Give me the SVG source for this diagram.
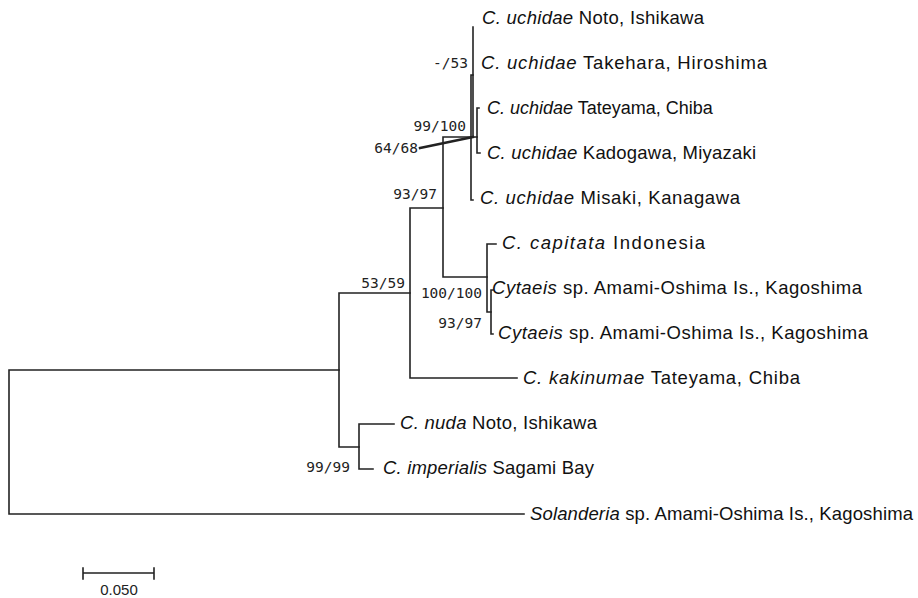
<svg xmlns="http://www.w3.org/2000/svg" width="918" height="598" viewBox="0 0 918 598">
<style>
  .br { fill: none; stroke: #222; stroke-width: 1.6; stroke-linecap: square; }
  .tx { font-family: "Liberation Sans", Arial, sans-serif; font-size: 18.5px; fill: #111; }
  .sp { font-style: italic; }
  .bs { font-family: "DejaVu Sans Mono", "Liberation Mono", monospace; font-size: 14.5px; fill: #222; }
  .sc { font-family: "Liberation Sans", Arial, sans-serif; font-size: 15px; fill: #222; }
</style>
<rect width="918" height="598" fill="#fff"/>

<!-- branches -->
<g id="branches" class="br">
  <!-- root -->
  <path d="M339 370 H9 V514 H524"/>
  <!-- ingroup split -->
  <path d="M410 293 H339 V447 H359"/>
  <!-- nuda / imperialis -->
  <path d="M394 424 H359 V469 H373"/>
  <!-- Cladonema s.l. clade -->
  <path d="M443 208 H410 V378 H517"/>
  <!-- uchidae vs capitata+Cytaeis -->
  <path d="M477 137 H443 V277 H487"/>
  <!-- capitata + Cytaeis -->
  <path d="M496 244 H487 V312 H491"/>
  <path d="M493 290 H491 V334 H493"/>
  <!-- uchidae clade -->
  <path d="M473 27 V137"/>
  <path d="M473 75 H471 V200 H473"/>
  <path d="M479 108 H477 V153 H480"/>
  <!-- leader line for 64/68 -->
  <path d="M420 148 L473 137" style="stroke-width:2.4"/>
</g>

<!-- terminal labels -->
<g id="taxa" class="tx" lengthAdjust="spacing">
  <g id="t1"><text x="482" y="24" textLength="222"><tspan class="sp">C. uchidae</tspan> Noto, Ishikawa</text></g>
  <g id="t2"><text x="481" y="69" textLength="286"><tspan class="sp">C. uchidae</tspan> Takehara, Hiroshima</text></g>
  <g id="t3"><text x="487" y="114" style="font-size:18px"><tspan class="sp">C. uchidae</tspan> Tateyama, Chiba</text></g>
  <g id="t4"><text x="487" y="159" textLength="269"><tspan class="sp">C. uchidae</tspan> Kadogawa, Miyazaki</text></g>
  <g id="t5"><text x="480" y="204" textLength="260"><tspan class="sp">C. uchidae</tspan> Misaki, Kanagawa</text></g>
  <g id="t6"><text x="502" y="249" textLength="203"><tspan class="sp">C. capitata</tspan> Indonesia</text></g>
  <g id="t7"><text x="492" y="294" textLength="370"><tspan class="sp">Cytaeis</tspan> sp. Amami-Oshima Is., Kagoshima</text></g>
  <g id="t8"><text x="498" y="339" textLength="370"><tspan class="sp">Cytaeis</tspan> sp. Amami-Oshima Is., Kagoshima</text></g>
  <g id="t9"><text x="523" y="384" textLength="277"><tspan class="sp">C. kakinumae</tspan> Tateyama, Chiba</text></g>
  <g id="t10"><text x="400" y="429" textLength="197"><tspan class="sp">C. nuda</tspan> Noto, Ishikawa</text></g>
  <g id="t11"><text x="383" y="474" textLength="211"><tspan class="sp">C. imperialis</tspan> Sagami Bay</text></g>
  <g id="t12"><text x="530" y="520" textLength="383"><tspan class="sp">Solanderia</tspan> sp. Amami-Oshima Is., Kagoshima</text></g>
</g>

<!-- bootstrap support -->
<g id="support" class="bs" text-anchor="end">
  <text x="468" y="68">-/53</text>
  <text x="466" y="131">99/100</text>
  <text x="418" y="153">64/68</text>
  <text x="437" y="199">93/97</text>
  <text x="405" y="288">53/59</text>
  <text x="482" y="298">100/100</text>
  <text x="482" y="328">93/97</text>
  <text x="350" y="472">99/99</text>
</g>

<!-- scale bar -->
<g id="scale">
  <path class="br" d="M83 573 H154 M83 568 V579 M154 568 V579"/>
  <text class="sc" x="119" y="595" text-anchor="middle">0.050</text>
</g>
</svg>
